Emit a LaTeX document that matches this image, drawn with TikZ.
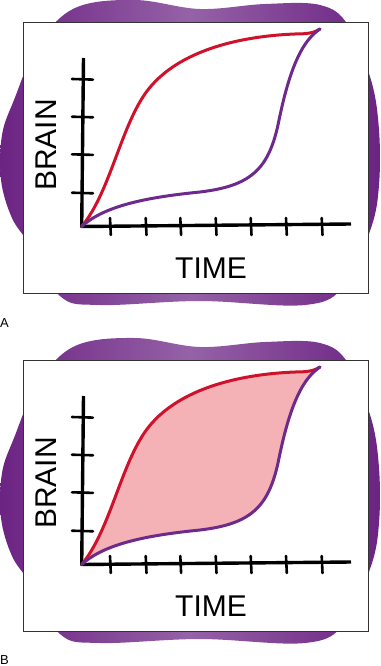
\documentclass[tikz,border=0pt]{standalone}
\usepackage{fontspec}
\setmainfont{Liberation Sans}
\usetikzlibrary{calc}

\definecolor{blobdark}{HTML}{6C2383}
\definecolor{bloblight}{HTML}{9562A7}
\definecolor{curvered}{HTML}{D0112B}
\definecolor{curvepurple}{HTML}{6D2A8C}
\definecolor{areapink}{HTML}{F4B1B6}
\definecolor{framegray}{HTML}{333333}

% one panel: #1 name prefix, #2 vertical offset, #3 fill between the curves
\newcommand{\growthpanel}[3]{%
\begin{scope}[shift={(0,#2)}]
  % purple backdrop
  \path[blob] plot[smooth cycle, tension=0.6] coordinates {
    (38,45) (75,8) (135,0) (200,9) (265,4) (320,5) (348,25) (371,80)
    (379,130) (379,185) (371,228) (345,285) (305,305) (200,301)
    (100,305) (60,296) (30,245) (12,218) (1,180) (2,135) (14,100)};
  \draw[frame] (23,22.3) rectangle (368.5,293.7);
  % axes
  \coordinate (#1o) at (81.7,226.5);
  \coordinate (#1ytop) at (83.5,58);
  \coordinate (#1xend) at (351,224);
  \coordinate (#1end) at (320,29);
  \draw[axisline] (#1ytop) -- (#1o) -- (#1xend);
  \foreach \ty in {79,116.7,154.3,192.7}
    \draw[ticmark] (72,\ty) -- (93,\ty+0.6);
  \foreach \tx in {110,145.7,180.3,215.7,250.7,286,321.7}
    \draw[ticmark] (\tx,218) -- (\tx+0.8,235);
  % area between the curves
  \path[fill=#3] (#1o) .. controls (105,205) and (150,197) .. (200,192)
    .. controls (250,186) and (268,170) .. (278,125)
    .. controls (288,75) and (300,42) .. (#1end)
    .. controls (314,33) and (307,34) .. (295,34)
    .. controls (245,36) and (185,48) .. (152,85)
    .. controls (122,118) and (112,190) .. (#1o);
  % growth curves
  \draw[growth, curvered] (#1o) .. controls (112,190) and (122,118) .. (152,85)
    .. controls (185,48) and (245,36) .. (295,34)
    .. controls (307,34) and (314,33) .. (#1end);
  \draw[growth, curvepurple] (#1o) .. controls (105,205) and (150,197) .. (200,192)
    .. controls (250,186) and (268,170) .. (278,125)
    .. controls (288,75) and (300,42) .. (#1end);
  \node[axislabel, rotate=90] (#1brain) at (46,145) {BRAIN};
  \node[axislabel] (#1time) at (211,268) {TIME};
\end{scope}}

\begin{document}
\begin{tikzpicture}[
  x=1pt, y=-1pt,
  blob/.style={left color=blobdark, right color=blobdark,
               middle color=bloblight},
  frame/.style={draw=framegray, line width=1pt, fill=white},
  axisline/.style={line width=3.4pt, line join=round},
  ticmark/.style={line width=2.6pt, line cap=round},
  growth/.style={line width=3pt, line cap=round},
  axislabel/.style={font=\fontsize{30}{30}\selectfont, inner sep=0pt},
  tag/.style={font=\fontsize{13}{13}\selectfont, inner sep=0pt, anchor=west},
]
\useasboundingbox (0,0) rectangle (380,666);

\growthpanel{a}{0}{none}
\growthpanel{b}{338}{areapink}

\node[tag] (taga) at (0,323) {A};
\node[tag] (tagb) at (0,660) {B};
\end{tikzpicture}
\end{document}
